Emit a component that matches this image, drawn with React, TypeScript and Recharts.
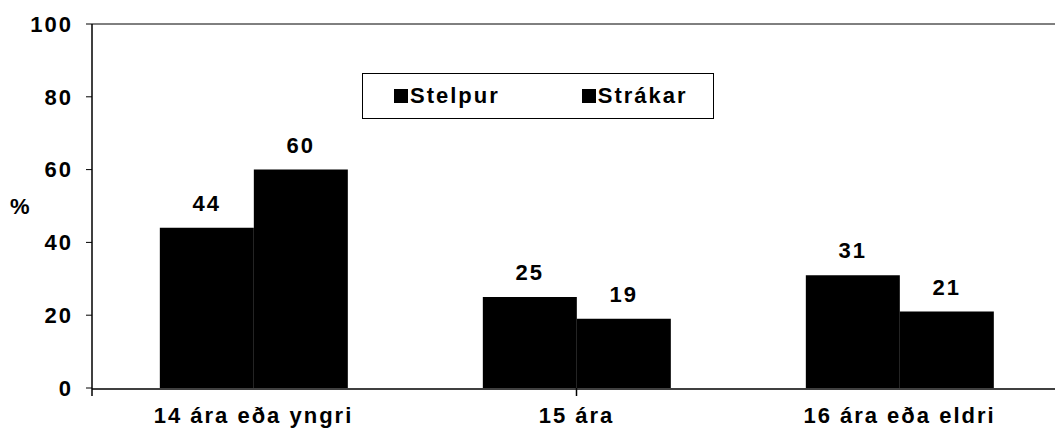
import React from "react";
import { BarChart, Bar, XAxis, YAxis, LabelList, Legend, ReferenceLine } from "recharts";

const categories = ["14 ára eða yngri", "15 ára", "16 ára eða eldri"];
const stelpur = [44, 25, 31];
const strakar = [60, 19, 21];
const yTicks = [0, 20, 40, 60, 80, 100];
const seriesNames = ["Stelpur", "Strákar"];
const bandEdges = [0, 1, 2, 3];

const data = categories.map((c, i) => ({ name: c, stelpur: stelpur[i], strakar: strakar[i] }));

const FONT = "'Liberation Sans', Arial, sans-serif";

const LegendBox = () => (
  <div
    style={{
      width: 352,
      height: 46,
      border: "1px solid #000",
      background: "#fff",
      display: "flex",
      alignItems: "center",
      fontFamily: FONT,
      fontWeight: 700,
      fontSize: 22,
      letterSpacing: 2,
      boxSizing: "border-box",
    }}
  >
    {seriesNames.map((n, i) => (
      <div key={n} style={{ display: "flex", alignItems: "center", marginLeft: i === 0 ? 31 : 82 }}>
        <span style={{ display: "inline-block", width: 14, height: 14, background: "#000", marginRight: 2 }} />
        <span>{n}</span>
      </div>
    ))}
  </div>
);

const EmptyTick = () => <g />;

export default function App() {
  return (
    <div style={{ position: "absolute", left: 0, top: 0, width: 1055, height: 440, overflow: "hidden", background: "#fff" }}>
      <BarChart
        width={1075}
        height={440}
        data={data}
        margin={{ top: 24, right: 14, bottom: 0, left: 0 }}
        barCategoryGap="21%"
        barGap={0}
      >
        <XAxis
          xAxisId={0}
          type="number"
          domain={[0, 3]}
          ticks={bandEdges}
          tick={<EmptyTick />}
          tickSize={8}
          tickLine={{ stroke: "#000", strokeWidth: 1.5 }}
          axisLine={false}
          allowDataOverflow
          height={1}
        />
        <XAxis
          dataKey="name"
          xAxisId="cat"
          tickLine={false}
          axisLine={{ stroke: "#000", strokeWidth: 1.5 }}
          tick={{ fill: "#000", fontSize: 22, fontWeight: 700, fontFamily: FONT, letterSpacing: 2 }}
          tickMargin={12}
          height={51}
          interval={0}
        />
        <YAxis
          domain={[0, 100]}
          ticks={yTicks}
          width={92}
          tickSize={6}
          tickMargin={13}
          tickLine={{ stroke: "#000" }}
          axisLine={{ stroke: "#000", strokeWidth: 1.5 }}
          tick={{ fill: "#000", fontSize: 22, fontWeight: 700, fontFamily: FONT, letterSpacing: 2 }}
          label={{ value: "%", position: "insideLeft", offset: 10, fill: "#000", fontSize: 22, fontWeight: 700, fontFamily: FONT }}
        />
        <ReferenceLine y={100} xAxisId="cat" stroke="#000" strokeWidth={1} />
        <Legend
          layout="horizontal"
          verticalAlign="middle"
          align="center"
          content={<LegendBox />}
          wrapperStyle={{ position: "absolute", left: 362, top: 73, width: 352, height: 46 }}
        />
        <Bar dataKey="stelpur" name="Stelpur" xAxisId="cat" fill="#000" isAnimationActive={false}>
          <LabelList dataKey="stelpur" position="top" offset={17} fill="#000" fontSize={22} fontWeight={700} fontFamily={FONT} letterSpacing={2} />
        </Bar>
        <Bar dataKey="strakar" name="Strákar" xAxisId="cat" fill="#000" isAnimationActive={false}>
          <LabelList dataKey="strakar" position="top" offset={17} fill="#000" fontSize={22} fontWeight={700} fontFamily={FONT} letterSpacing={2} />
        </Bar>
      </BarChart>
    </div>
  );
}
